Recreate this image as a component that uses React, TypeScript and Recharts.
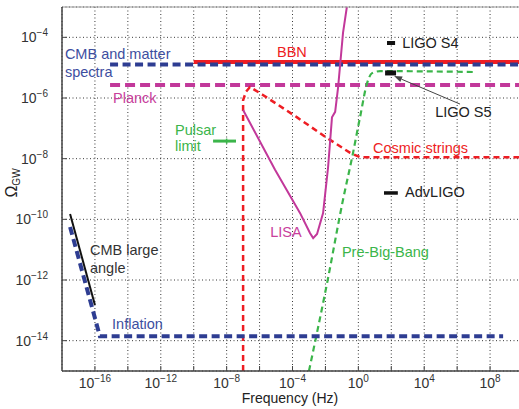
import React from 'react';
import { ComposedChart, Line, Scatter, XAxis, YAxis, CartesianGrid, ReferenceLine } from 'recharts';

const font = '"Liberation Sans", Arial, Helvetica, sans-serif';

const red = '#ee1d23';
const navy = '#2e3d92';
const magenta = '#c2389a';
const green = '#3bb54a';

// tick positions (Hz, Omega)
const xTicks = [1e-16, 1e-14, 1e-12, 1e-10, 1e-8, 1e-6, 1e-4, 1e-2, 1, 1e2, 1e4, 1e6, 1e8, 1e10];
const yTicks = [1e-14, 1e-12, 1e-10, 1e-8, 1e-6, 1e-4];

// bounds and curves
const bbn = [{ x: 1e-10, y: 1.54e-5 }, { x: 1e10, y: 1.54e-5 }];
const cmbMatter = [{ x: 8.3e-16, y: 1.27e-5 }, { x: 1e10, y: 1.27e-5 }];
const planck = [{ x: 8.3e-16, y: 2.7e-6 }, { x: 1e10, y: 2.7e-6 }];

const cosmicStrings = [
  { x: 1e-7, y: 1e-15 },
  { x: 1e-7, y: 8.5e-7 },
  { x: 1.5e-7, y: 1.6e-6 },
  { x: 2.6e-7, y: 2.3e-6 },
  { x: 1.6e-6, y: 1.26e-6 },
  { x: 1.9e-4, y: 2.3e-7 },
  { x: 1.26e-2, y: 4.8e-8 },
  { x: 0.32, y: 1.55e-8 },
  { x: 1.26, y: 1.12e-8 },
  { x: 1e10, y: 1.12e-8 },
];

const lisa = [
  { x: 1e-7, y: 4e-7 },
  { x: 8.7e-6, y: 4.3e-9 },
  { x: 2.9e-4, y: 1.6e-10 },
  { x: 1.17e-3, y: 3.5e-11 },
  { x: 1.8e-3, y: 2.4e-11 },
  { x: 3.1e-3, y: 3.3e-11 },
  { x: 7.2e-3, y: 1.6e-10 },
  { x: 1.45e-2, y: 5.2e-9 },
  { x: 2.5e-2, y: 2.3e-7 },
  { x: 3.9e-2, y: 3.5e-7 },
  { x: 5.9e-2, y: 2.3e-6 },
  { x: 0.117, y: 1.4e-4 },
  { x: 0.2, y: 1e-3 },
];

const preBigBang = [
  { x: 1e-3, y: 1e-15 },
  { x: 1.26e-2, y: 7.9e-13 },
  { x: 0.117, y: 4.4e-10 },
  { x: 0.42, y: 1.12e-8 },
  { x: 1.26, y: 2.3e-7 },
  { x: 3.4, y: 3.1e-6 },
  { x: 6.8, y: 6.6e-6 },
  { x: 21, y: 7.7e-6 },
  { x: 9.3e6, y: 7.2e-6 },
];

const inflation = [
  { x: 3.1e-18, y: 5.6e-11 },
  { x: 1.17e-16, y: 4.1e-14 },
  { x: 2e-16, y: 1.4e-14 },
  { x: 6.2e8, y: 1.4e-14 },
];

const cmbLargeAngle = [{ x: 3.1e-18, y: 1.5e-10 }, { x: 1e-16, y: 1.5e-13 }];

const pulsar = [{ x: 1.5e-9, y: 3.8e-8 }, { x: 3.7e-8, y: 3.8e-8 }];
const pulsarTick = [{ x: 1e-8, y: 3.1e-8 }, { x: 1e-8, y: 4.6e-8 }];

const ligoS4 = [{ x: 55, y: 6.5e-5 }, { x: 170, y: 6.5e-5 }];
const ligoS5 = [{ x: 42, y: 6.7e-6 }, { x: 195, y: 6.7e-6 }];
const advLigo = [{ x: 36, y: 7.4e-10 }, { x: 250, y: 7.4e-10 }];

const s5Arrow = [{ x: 1.5e6, y: 6.3e-7 }, { x: 148, y: 5.3e-6 }];

const notes = [
  { text: 'CMB and matter', x: 1.5e-18, y: 2.8e-5, color: '#3d4ea0' },
  { text: 'spectra', x: 1.5e-18, y: 7.2e-6, color: '#3d4ea0' },
  { text: 'BBN', x: 1.15e-5, y: 3.3e-5, color: red },
  { text: 'Planck', x: 1.26e-15, y: 1e-6, color: '#c8409c' },
  { text: 'Pulsar', x: 7.4e-12, y: 8.7e-8, color: green },
  { text: 'limit', x: 7.4e-12, y: 2.6e-8, color: green },
  { text: 'Cosmic strings', x: 7.8, y: 2.2e-8, color: red },
  { text: 'LIGO S4', x: 460, y: 6.5e-5, color: '#222' },
  { text: 'LIGO S5', x: 4.6e4, y: 3.5e-7, color: '#222' },
  { text: 'AdvLIGO', x: 690, y: 7.9e-10, color: '#222' },
  { text: 'LISA', x: 4.4e-6, y: 3.8e-11, color: '#c8409c' },
  { text: 'Pre-Big-Bang', x: 0.1, y: 8.3e-12, color: green },
  { text: 'CMB large', x: 5e-17, y: 9.8e-12, color: '#333' },
  { text: 'angle', x: 5e-17, y: 2.5e-12, color: '#333' },
  { text: 'Inflation', x: 1.1e-15, y: 3.5e-14, color: '#3d4ea0' },
];

const expText = (v: number) => {
  const e = Math.round(Math.log10(v));
  return e < 0 ? '\u2212' + -e : String(e);
};

const XTick = (props: any) => {
  const { x, y, payload } = props;
  const e = Math.round(Math.log10(payload.value));
  if (e % 4 !== 0) return <g />;
  return (
    <text x={x} y={y} textAnchor="middle" dominantBaseline="central" fontSize={14} fill="#333" fontFamily={font}>
      10
      <tspan fontSize={10} dy={-5}>{expText(payload.value)}</tspan>
    </text>
  );
};

const YTick = (props: any) => {
  const { x, y, payload } = props;
  return (
    <text x={x} y={y} textAnchor="end" dominantBaseline="central" fontSize={14} fill="#333" fontFamily={font}>
      10
      <tspan fontSize={10} dy={-5}>{expText(payload.value)}</tspan>
    </text>
  );
};

const NoteShape = (props: any) => {
  const { cx, cy, payload } = props;
  return (
    <text x={cx} y={cy} dominantBaseline="central" fontSize={14.5} fill={payload.color} fontFamily={font}>
      {payload.text}
    </text>
  );
};

const ArrowShape = (p: any) => {
  const { x1, y1, x2, y2 } = p;
  const a = Math.atan2(y2 - y1, x2 - x1);
  const L = 8;
  const W = 3;
  const bx = x2 - L * Math.cos(a);
  const by = y2 - L * Math.sin(a);
  const pts = [
    [x2, y2],
    [bx + W * Math.sin(a), by - W * Math.cos(a)],
    [bx - W * Math.sin(a), by + W * Math.cos(a)],
  ]
    .map((q) => q.join(','))
    .join(' ');
  return (
    <g>
      <line x1={x1} y1={y1} x2={bx} y2={by} stroke="#444" strokeWidth={1} />
      <polygon points={pts} fill="#444" />
    </g>
  );
};

const App = () => {
  return (
    <div style={{ position: 'absolute', left: 0, top: 0, width: 519, height: 409, overflow: 'hidden', background: '#fff' }}>
      <ComposedChart width={540} height={409} margin={{ top: 6, right: 17, bottom: 0, left: 0 }}>
        <CartesianGrid stroke="#222" strokeDasharray="1 2.5" strokeWidth={0.9} />
        <XAxis
          dataKey="x"
          type="number"
          scale="log"
          domain={[1e-18, 1e10]}
          allowDataOverflow
          ticks={xTicks}
          interval={0}
          height={38}
          tickSize={-5}
          tickMargin={17}
          tick={<XTick />}
          stroke="#444"
          axisLine={{ stroke: '#444', strokeWidth: 1.5 }}
          tickLine={{ stroke: '#444' }}
          label={{
            content: () => (
              <text x={290} y={398} textAnchor="middle" dominantBaseline="central" fontSize={14} fill="#222" fontFamily={font}>
                Frequency (Hz)
              </text>
            ),
          }}
        />
        <XAxis
          xAxisId="top"
          orientation="top"
          type="number"
          scale="log"
          domain={[1e-18, 1e10]}
          allowDataOverflow
          ticks={xTicks}
          interval={0}
          height={1}
          tickSize={-5}
          tick={false}
          axisLine={{ stroke: '#999', strokeWidth: 1 }}
          tickLine={{ stroke: '#777' }}
        />
        <YAxis
          dataKey="y"
          type="number"
          scale="log"
          domain={[1e-15, 1e-3]}
          allowDataOverflow
          ticks={yTicks}
          interval={0}
          width={62}
          tickSize={-5}
          tickMargin={19}
          tick={<YTick />}
          axisLine={{ stroke: '#444', strokeWidth: 1.5 }}
          tickLine={{ stroke: '#444' }}
          label={{
            content: () => (
              <text
                x={17}
                y={183}
                transform="rotate(-90 17 183)"
                textAnchor="middle"
                fontSize={16}
                fill="#222"
                fontFamily={font}
              >
                Ω
                <tspan fontSize={10} dy={3}>GW</tspan>
              </text>
            ),
          }}
        />

        <Line data={planck} dataKey="y" stroke={magenta} strokeWidth={4} strokeDasharray="10 5" dot={false} isAnimationActive={false} />
        <Line data={bbn} dataKey="y" stroke={red} strokeWidth={4} dot={false} isAnimationActive={false} />
        <Line data={cmbMatter} dataKey="y" stroke={navy} strokeWidth={4} strokeDasharray="8 4.5" dot={false} isAnimationActive={false} />
        <Line data={cosmicStrings} dataKey="y" stroke={red} strokeWidth={2.5} strokeDasharray="6 4" dot={false} isAnimationActive={false} />
        <Line data={lisa} dataKey="y" stroke={magenta} strokeWidth={2} dot={false} isAnimationActive={false} />
        <Line data={preBigBang} dataKey="y" type="monotoneX" stroke={green} strokeWidth={2.2} strokeDasharray="6 4" dot={false} isAnimationActive={false} />
        <Line data={inflation} dataKey="y" stroke={navy} strokeWidth={4} strokeDasharray="8 4.5" dot={false} isAnimationActive={false} />
        <Line data={cmbLargeAngle} dataKey="y" stroke="#111" strokeWidth={2} dot={false} isAnimationActive={false} />
        <Line data={pulsar} dataKey="y" stroke={green} strokeWidth={3} dot={false} isAnimationActive={false} />
        <Line data={pulsarTick} dataKey="y" stroke={green} strokeWidth={1.5} dot={false} isAnimationActive={false} />
        <Line data={ligoS4} dataKey="y" stroke="#111" strokeWidth={4} dot={false} isAnimationActive={false} />
        <Line data={ligoS5} dataKey="y" stroke="#111" strokeWidth={5} dot={false} isAnimationActive={false} />
        <Line data={advLigo} dataKey="y" stroke="#111" strokeWidth={3.5} dot={false} isAnimationActive={false} />
        <ReferenceLine segment={s5Arrow} ifOverflow="visible" shape={ArrowShape} />
        <Scatter data={notes} dataKey="y" shape={NoteShape} isAnimationActive={false} />
      </ComposedChart>
    </div>
  );
};

export default App;
